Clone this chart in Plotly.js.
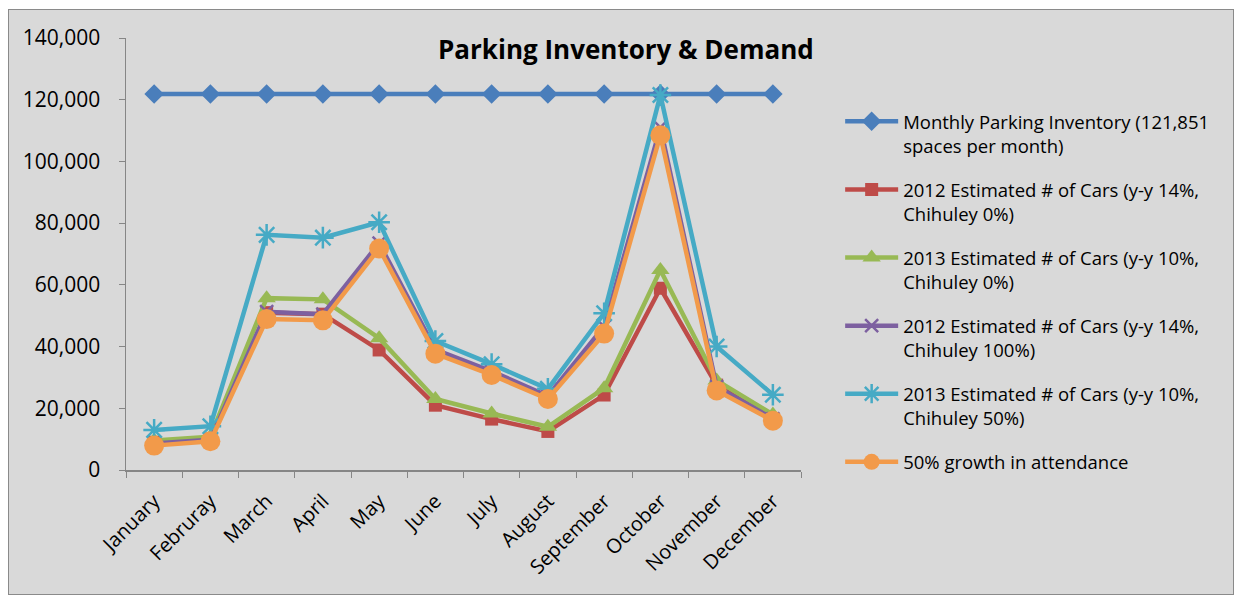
<!DOCTYPE html>
<html>
<head>
<meta charset="utf-8">
<script src="https://cdn.plot.ly/plotly-3.0.1.min.js"></script>
<style>
  html, body { margin: 0; padding: 0; background: #ffffff; }
  #frame { position: absolute; left: 8px; top: 9px; width: 1224px; height: 584px;
           border: 1px solid #8a8a8a; background: #d9d9d9; }
  #chart { width: 1224px; height: 584px; }
</style>
</head>
<body>
<div id="frame"><div id="chart"></div></div>
<script>
const months = ["January","Februray","March","April","May","June","July","August","September","October","November","December"];

const inventory = [121851,121851,121851,121851,121851,121851,121851,121851,121851,121851,121851,121851];
const cars2012_0 = [9000,10000,51000,50500,38900,21000,16500,12500,24300,58900,27500,16500];
const cars2013_0 = [9600,10800,55700,55300,42700,23000,18300,14000,26500,64800,29000,18000];
const cars2012_100 = [8600,9800,51300,50500,73500,39000,32000,24000,46500,111000,27000,16600];
const cars2013_50 = [13000,14200,76200,75300,80300,41800,34300,26300,50800,121500,40000,24400];
const growth50 = [7900,9300,48900,48500,71800,37700,30800,23000,44200,108500,25800,16000];

const names = [
  "Monthly Parking Inventory (121,851<br>spaces per month)",
  "2012 Estimated # of Cars (y-y 14%,<br>Chihuley 0%)",
  "2013 Estimated # of Cars (y-y 10%,<br>Chihuley 0%)",
  "2012 Estimated # of Cars (y-y 14%,<br>Chihuley 100%)",
  "2013 Estimated # of Cars (y-y 10%,<br>Chihuley 50%)",
  "50% growth in attendance"
];
const series = [inventory, cars2012_0, cars2013_0, cars2012_100, cars2013_50, growth50];
const colors = ["#4a7ebb", "#be4b48", "#98b954", "#7d60a0", "#46aac5", "#f29a4a"];
const symbols = ["diamond", "square", "triangle-up", "x-thin-open", "asterisk-open", "circle"];
const sizes = [15, 13, 16, 13, 18, 20];

const FONT = "'Open Sans', Lato, sans-serif";

const traces = series.map((ys, i) => ({
  type: "scatter",
  mode: "lines+markers",
  x: months,
  y: ys,
  name: names[i],
  legendgroup: "g" + i,
  line: { color: colors[i], width: 4.5 },
  marker: {
    symbol: symbols[i], size: sizes[i], color: colors[i],
    line: { color: colors[i], width: (symbols[i].endsWith("open") ? 2.5 : 0) }
  }
}));

const layout = {
  width: 1224, height: 584,
  paper_bgcolor: "#d9d9d9",
  plot_bgcolor: "#d9d9d9",
  margin: { l: 117, r: 432, t: 28, b: 124 },
  font: { family: FONT, color: "#000000", size: 18 },
  title: {
    text: "<b>Parking Inventory & Demand</b>",
    font: { family: FONT, size: 26, color: "#000000" },
    xref: "container", yref: "container",
    x: 0.504, y: 0.931, xanchor: "center", yanchor: "middle"
  },
  showlegend: true,
  legend: {
    x: 1.058, xanchor: "left", y: 0.85, yanchor: "top",
    bgcolor: "rgba(0,0,0,0)",
    font: { family: FONT, size: 18.5, color: "#000000" },
    traceorder: "grouped",
    tracegroupgap: 17,
    valign: "top",
    itemwidth: 53
  },
  xaxis: {
    type: "category",
    range: [-0.5, 11.5],
    showline: true, linecolor: "#868686", linewidth: 1.5,
    ticks: "outside", tickson: "boundaries", ticklen: 6, tickcolor: "#868686",
    tickangle: -45,
    ticklabelstandoff: 10,
    tickfont: { family: FONT, size: 20, color: "#000000" },
    showgrid: false, zeroline: false, fixedrange: true
  },
  yaxis: {
    range: [0, 140000],
    dtick: 20000,
    tickformat: ",d",
    showline: true, linecolor: "#868686", linewidth: 1.5,
    ticks: "outside", ticklen: 6, tickcolor: "#868686",
    ticklabelstandoff: 14,
    tickfont: { family: FONT, size: 21, color: "#000000" },
    showgrid: false, zeroline: false, fixedrange: true
  }
};

Plotly.newPlot("chart", traces, layout, { displayModeBar: false, staticPlot: true });
</script>
</body>
</html>
